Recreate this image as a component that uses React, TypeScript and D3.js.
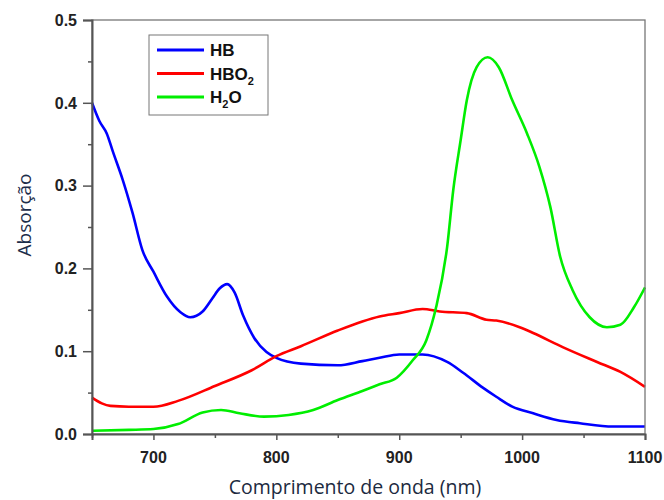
import React, { useEffect, useRef } from "react";
import * as d3 from "d3";

// wavelength (nm) / absorption
const hbNm = [650, 656, 662, 667, 675, 683, 691, 700, 711, 722, 730, 740, 748, 754, 760, 766, 773, 782, 792, 800, 820, 850, 870, 884, 900, 919, 939, 952, 968, 979, 992, 1009, 1028, 1047, 1074, 1100];
const hbAbs = [0.4, 0.378, 0.363, 0.341, 0.307, 0.267, 0.222, 0.196, 0.166, 0.147, 0.141, 0.148, 0.164, 0.176, 0.181, 0.171, 0.143, 0.116, 0.099, 0.092, 0.085, 0.083, 0.088, 0.092, 0.096, 0.096, 0.087, 0.074, 0.056, 0.045, 0.033, 0.025, 0.017, 0.013, 0.009, 0.009];

const hbo2Nm = [650, 658, 665, 680, 700, 720, 750, 780, 800, 820, 850, 870, 884, 900, 919, 933, 955, 971, 979, 998, 1009, 1033, 1061, 1080, 1100];
const hbo2Abs = [0.044, 0.037, 0.034, 0.033, 0.033, 0.04, 0.058, 0.077, 0.094, 0.106, 0.125, 0.136, 0.142, 0.146, 0.151, 0.148, 0.146, 0.138, 0.137, 0.129, 0.122, 0.105, 0.087, 0.075, 0.057];

const h2oNm = [650, 680, 700, 720, 740, 755, 770, 790, 810, 830, 850, 870, 884, 898, 911, 922, 930, 939, 944, 950, 955, 963, 972, 981, 992, 1004, 1014, 1023, 1031, 1041, 1055, 1069, 1080, 1091, 1100];
const h2oAbs = [0.004, 0.005, 0.006, 0.012, 0.026, 0.029, 0.025, 0.021, 0.023, 0.029, 0.041, 0.052, 0.06, 0.068, 0.089, 0.113, 0.153, 0.226, 0.295, 0.355, 0.403, 0.443, 0.455, 0.443, 0.403, 0.363, 0.323, 0.274, 0.214, 0.174, 0.141, 0.129, 0.132, 0.153, 0.177];

const xTicks = [700, 800, 900, 1000, 1100];
const yTicks = [0.0, 0.1, 0.2, 0.3, 0.4, 0.5];

const series = [
  { name: "HB", sub: "", rest: "", nm: hbNm, abs: hbAbs, color: "#0000ff" },
  { name: "HBO", sub: "2", rest: "", nm: hbo2Nm, abs: hbo2Abs, color: "#ff0000" },
  { name: "H", sub: "2", rest: "O", nm: h2oNm, abs: h2oAbs, color: "#00ee00" },
];

export default function App() {
  const ref = useRef<SVGSVGElement>(null);

  useEffect(() => {
    const width = 664;
    const height = 500;
    const margin = { top: 20, right: 19, bottom: 66, left: 92 };
    const innerWidth = width - margin.left - margin.right;
    const innerHeight = height - margin.top - margin.bottom;

    const svg = d3.select(ref.current);
    svg.selectAll("*").remove();
    const g = svg.append("g").attr("transform", `translate(${margin.left}, ${margin.top})`);

    const x = d3.scaleLinear().domain([650, 1100]).range([0, innerWidth]);
    const y = d3.scaleLinear().domain([0, 0.5]).range([innerHeight, 0]);

    // curves
    const line = d3.line<[number, number]>()
      .x(d => x(d[0]))
      .y(d => y(d[1]))
      .curve(d3.curveMonotoneX);

    series.forEach(s => {
      const pts = s.nm.map((n, i) => [n, s.abs[i]] as [number, number]);
      g.append("path")
        .attr("d", line(pts))
        .attr("fill", "none")
        .attr("stroke", s.color)
        .attr("stroke-width", 2.6)
        .attr("stroke-linejoin", "round");
    });

    // frame
    g.append("rect")
      .attr("width", innerWidth)
      .attr("height", innerHeight)
      .attr("fill", "none")
      .attr("stroke", "#777")
      .attr("stroke-width", 1.3);

    // x axis
    const xAxis = g.append("g").attr("transform", `translate(0, ${innerHeight})`);
    xAxis.call(d3.axisBottom(x).tickValues(d3.range(650, 1101, 50)).tickSize(6).tickFormat(() => ""));
    xAxis.call(a => a.select(".domain").attr("stroke", "#555").attr("stroke-width", 2));
    xAxis.selectAll(".tick line").attr("stroke", "#555").attr("stroke-width", 1.5);
    xAxis.selectAll(".tick")
      .filter(d => !xTicks.includes(d as number))
      .select("line").attr("y2", 4);
    xTicks.forEach(t => {
      g.append("text")
        .attr("x", x(t))
        .attr("y", innerHeight + 29)
        .attr("text-anchor", "middle")
        .style("font-family", "'Liberation Sans', Arial, sans-serif")
        .style("font-weight", "bold")
        .style("font-size", "16px")
        .attr("fill", "#222")
        .text(t);
    });

    // y axis
    const yAxis = g.append("g");
    yAxis.call(d3.axisLeft(y).tickValues(d3.range(0, 0.501, 0.05)).tickSize(9).tickFormat(() => ""));
    yAxis.call(a => a.select(".domain").attr("stroke", "#555").attr("stroke-width", 2));
    yAxis.selectAll(".tick line").attr("stroke", "#555").attr("stroke-width", 1.5);
    yAxis.selectAll(".tick")
      .filter((d, i) => i % 2 === 1)
      .select("line").attr("x2", -4);
    yTicks.forEach(t => {
      g.append("text")
        .attr("x", -15)
        .attr("y", y(t))
        .attr("dy", "0.36em")
        .attr("text-anchor", "end")
        .style("font-family", "'Liberation Sans', Arial, sans-serif")
        .style("font-weight", "bold")
        .style("font-size", "16px")
        .attr("fill", "#222")
        .text(t.toFixed(1));
    });

    // titles
    svg.append("text")
      .attr("x", 355)
      .attr("y", 494)
      .attr("text-anchor", "middle")
      .style("font-family", "'Open Sans', sans-serif")
      .style("font-size", "19.5px")
      .attr("fill", "#1c2a40")
      .text("Comprimento de onda (nm)");

    svg.append("text")
      .attr("transform", "translate(31, 215) rotate(-90)")
      .attr("text-anchor", "middle")
      .style("font-family", "'Open Sans', sans-serif")
      .style("font-size", "19px")
      .attr("fill", "#1c2d4a")
      .text("Absorção");

    // legend
    const lg = svg.append("g").attr("transform", "translate(149, 35)");
    lg.append("rect")
      .attr("width", 119)
      .attr("height", 80)
      .attr("fill", "#fff")
      .attr("stroke", "#777")
      .attr("stroke-width", 1);
    series.forEach((s, i) => {
      const cy = 15 + i * 23.5;
      lg.append("line")
        .attr("x1", 8).attr("x2", 55)
        .attr("y1", cy).attr("y2", cy)
        .attr("stroke", s.color)
        .attr("stroke-width", 3);
      const t = lg.append("text")
        .attr("x", 61)
        .attr("y", cy)
        .attr("dy", "0.36em")
        .style("font-family", "'Liberation Sans', Arial, sans-serif")
        .style("font-weight", "bold")
        .style("font-size", "17px")
        .attr("fill", "#111");
      t.append("tspan").text(s.name);
      if (s.sub) {
        t.append("tspan").attr("dy", 5).style("font-size", "11px").text(s.sub);
        if (s.rest) t.append("tspan").attr("dy", -5).text(s.rest);
      }
    });
  }, []);

  return <svg ref={ref} width={664} height={500} style={{ position: "absolute", left: 0, top: 0 }} />;
}
